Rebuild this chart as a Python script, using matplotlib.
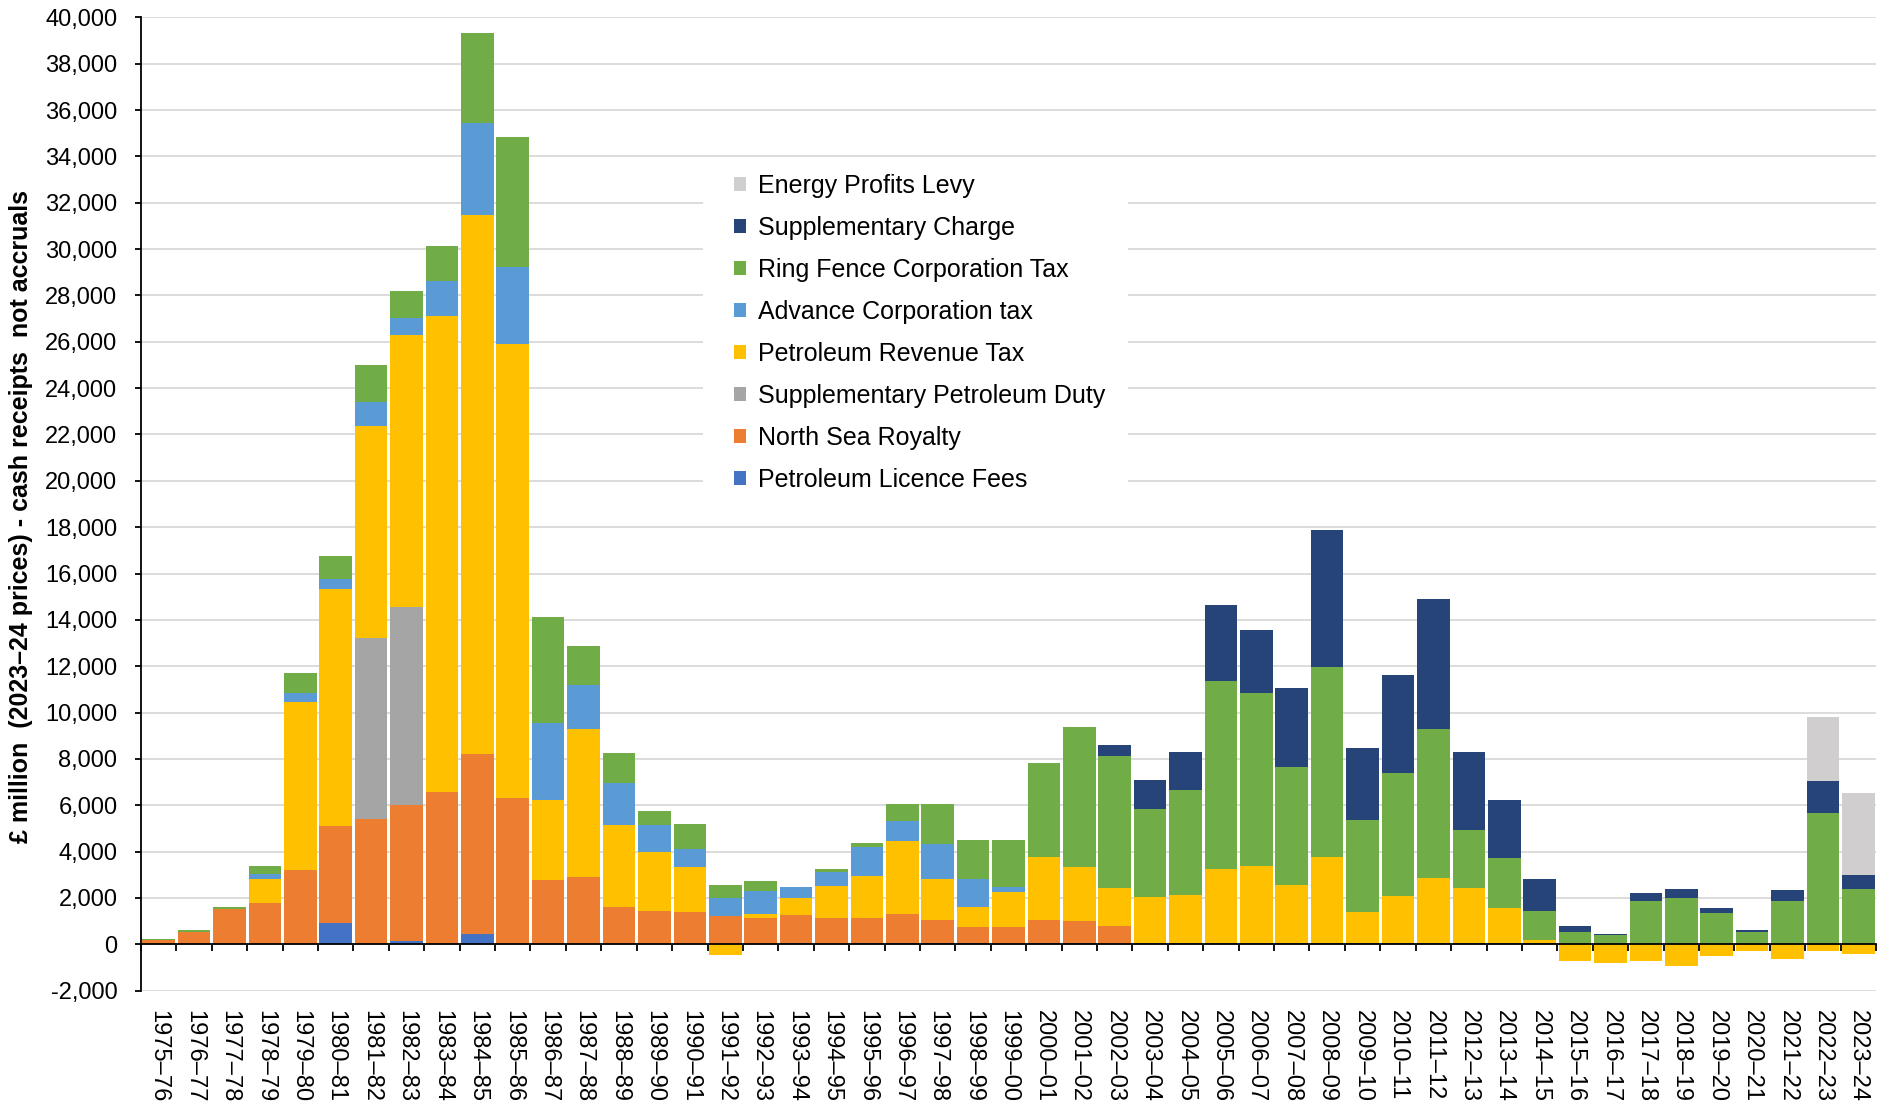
import matplotlib
matplotlib.use("Agg")
import matplotlib.pyplot as plt
import matplotlib.transforms as mtransforms
from matplotlib.patches import Patch, Rectangle
import numpy as np

plt.rcParams['font.family'] = ['Liberation Sans', 'DejaVu Sans']

years = ["1975–76", "1976–77", "1977–78", "1978–79", "1979–80", "1980–81", "1981–82",
         "1982–83", "1983–84", "1984–85", "1985–86", "1986–87", "1987–88", "1988–89",
         "1989–90", "1990–91", "1991–92", "1992–93", "1993–94", "1994–95", "1995–96",
         "1996–97", "1997–98", "1998–99", "1999–00", "2000–01", "2001–02", "2002–03",
         "2003–04", "2004–05", "2005–06", "2006–07", "2007–08", "2008–09", "2009–10",
         "2010–11", "2011–12", "2012–13", "2013–14", "2014–15", "2015–16", "2016–17",
         "2017–18", "2018–19", "2019–20", "2020–21", "2021–22", "2022–23", "2023–24"]

licence_fees = [0, 0, 0, 0, 0, 930, 0, 150, 0, 430, 0, 0, 0, 0, 0, 0, 0, 0, 50, 0,
                50, 50, 50, 50, 0, 50, 50, 0, 60, 60, 50, 50, 50, 50, 50, 50, 50, 50, 50, 40,
                30, 0, 0, 0, 0, 0, 0, 0, 0]
royalty = [190, 520, 1530, 1770, 3200, 4170, 5400, 5850, 6570, 7790, 6320, 2770, 2920, 1620,
           1450, 1400, 1220, 1150, 1220, 1120, 1070, 1270, 1020, 690, 770, 1020, 970, 780, 0, 0,
           0, 0, 0, 0, 0, 0, 0, 0, 0, 0, 0, 0, 0, 0, 0, 0, 0, 0, 0]
supp_petroleum_duty = [0, 0, 0, 0, 0, 0, 7800, 8570, 0, 0, 0, 0, 0, 0, 0, 0, 0, 0, 0, 0,
                       0, 0, 0, 0, 0, 0, 0, 0, 0, 0, 0, 0, 0, 0, 0, 0, 0, 0, 0, 0,
                       0, 0, 0, 0, 0, 0, 0, 0, 0]
prt = [0, 0, 0, 1050, 7270, 10230, 9170, 11710, 20540, 23240, 19570, 3460, 6360, 3530, 2550,
       1920, -480, 170, 710, 1410, 1850, 3160, 1750, 880, 1510, 2680, 2300, 1670, 1990, 2070,
       3210, 3310, 2530, 3700, 1350, 2030, 2820, 2380, 1500, 160, -730, -820, -720, -930, -500,
       -300, -630, -270, -430]
act = [0, 0, 0, 233, 383, 434, 1030, 735, 1505, 3986, 3325, 3300, 1900, 1817, 1150, 800, 766,
       966, 484, 584, 1250, 834, 1516, 1216, 184, 0, 0, 0, 0, 0, 0, 0, 0, 0, 0, 0, 0, 0, 0, 0,
       0, 0, 0, 0, 0, 0, 0, 0, 0]
ring_fence_ct = [30, 100, 80, 317, 867, 1000, 1615, 1154, 1508, 3862, 5600, 4584, 1700, 1300,
                 583, 1083, 584, 434, 30, 133, 150, 750, 1734, 1684, 2050, 4067, 6066, 5667, 3800,
                 4534, 8116, 7483, 5067, 8217, 3983, 5300, 6416, 2517, 2183, 1250, 517, 383, 1850,
                 1983, 1350, 533, 1883, 5683, 2383]
supp_charge = [0, 0, 0, 0, 0, 0, 0, 0, 0, 0, 0, 0, 0, 0, 0, 0, 0, 0, 0, 0, 0, 0, 0, 0, 0, 0, 0,
               483, 1250, 1633, 3267, 2733, 3433, 5900, 3084, 4234, 5634, 3367, 2484, 1350, 250,
               67, 383, 400, 217, 100, 450, 1367, 600]
energy_profits_levy = [0] * 47 + [2767, 3567]

series_names = ["Petroleum Licence Fees", "North Sea Royalty", "Supplementary Petroleum Duty",
                "Petroleum Revenue Tax", "Advance Corporation tax", "Ring Fence Corporation Tax",
                "Supplementary Charge", "Energy Profits Levy"]
series_values = [licence_fees, royalty, supp_petroleum_duty, prt, act, ring_fence_ct,
                 supp_charge, energy_profits_levy]
series_colors = ["#4472C4", "#ED7D31", "#A5A5A5", "#FFC000", "#5B9BD5", "#70AD47",
                 "#264478", "#D0CECE"]

W, H = 1877, 1108
fig = plt.figure(figsize=(W / 100, H / 100), dpi=100)
ax = fig.add_axes([141 / W, 1 - 990.7 / H, (1876 - 141) / W, (990.7 - 17.3) / H])

x = np.arange(len(years))
pos_bottom = np.zeros(len(years))
neg_bottom = np.zeros(len(years))
for name, vals, col in zip(series_names, series_values, series_colors):
    v = np.array(vals, dtype=float)
    b = np.where(v >= 0, pos_bottom, neg_bottom)
    ax.bar(x, v, bottom=b, width=0.92, color=col, edgecolor='none', zorder=2)
    pos_bottom = pos_bottom + np.where(v > 0, v, 0)
    neg_bottom = neg_bottom + np.where(v < 0, v, 0)

ax.set_xlim(-0.5, len(years) - 0.5)
ax.set_ylim(-2000, 40000)
ax.set_yticks(np.arange(-2000, 40001, 2000))
ax.yaxis.set_major_formatter(matplotlib.ticker.FuncFormatter(lambda v, p: f"{int(v):,}"))
ax.grid(axis='y', color='#D9D9D9', linewidth=1.3, zorder=0)
ax.set_axisbelow(True)

for s in ['top', 'right']:
    ax.spines[s].set_visible(False)
ax.spines['left'].set_linewidth(1.3)
ax.spines['bottom'].set_position(('data', 0))
ax.spines['bottom'].set_linewidth(1.3)
ax.spines['bottom'].set_zorder(3)

ax.set_xticks(np.arange(-0.5, len(years), 1.0))
ax.set_xticklabels([])
ax.tick_params(axis='x', direction='out', length=5, width=1.3, color='black')
ax.tick_params(axis='y', direction='out', length=4, width=1.3, labelsize=17, pad=13)

trans = mtransforms.blended_transform_factory(ax.transData, ax.transAxes)
for i, lab in enumerate(years):
    ax.text(i, -0.020, lab, transform=trans, rotation=-90, ha='center', va='top',
            fontsize=17)

ax.set_ylabel("£ million  (2023–24 prices) - cash receipts  not accruals",
              fontsize=18, fontweight='bold')
ax.yaxis.set_label_coords(-0.0622, 0.487)

# white legend area covering gridlines
fig.patches.append(Rectangle((703 / W, 1 - 500 / H), (1128 - 703) / W, (500 - 160) / H,
                             transform=fig.transFigure, facecolor='white',
                             edgecolor='none', zorder=1))

handles = [Patch(facecolor=c, edgecolor='none') for c in series_colors][::-1]
labels = series_names[::-1]
leg = fig.legend(handles, labels, loc='upper left',
                 bbox_to_anchor=(734 / W, 1 - 174 / H), bbox_transform=fig.transFigure,
                 frameon=False, fontsize=18, handlelength=0.47, handleheight=0.47,
                 handletextpad=0.5, labelspacing=0.72, borderpad=0, borderaxespad=0)
leg.set_zorder(5)

fig.savefig("out.png", dpi=100)
